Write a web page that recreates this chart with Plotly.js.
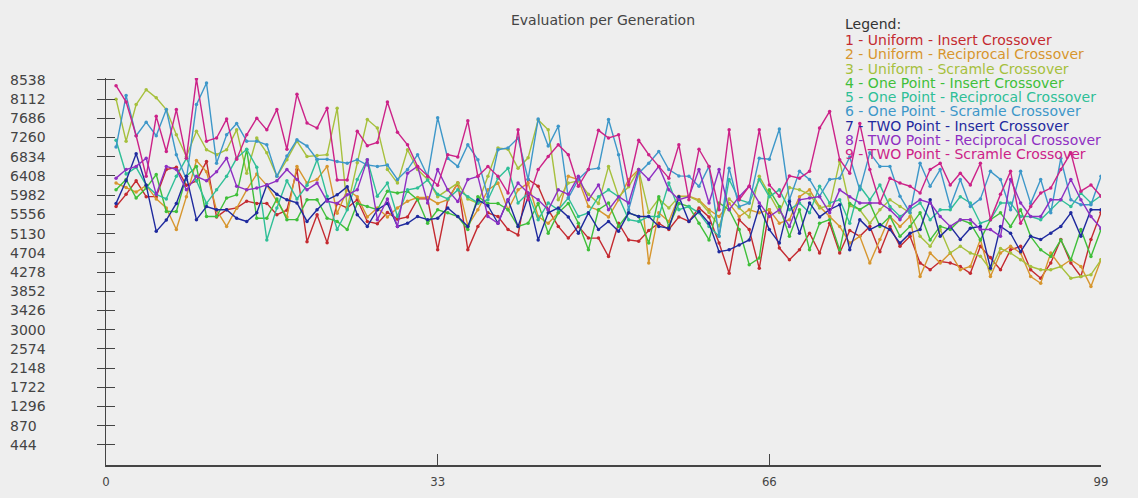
<!DOCTYPE html>
<html><head><meta charset="utf-8">
<script src="https://cdn.plot.ly/plotly-3.0.1.min.js"></script>
<style>html,body{margin:0;padding:0;background:#eeeeee;} #chart{width:1138px;height:498px;}</style>
</head><body><div id="chart"></div>
<script>
const generations = Array.from({length: 99}, (_, i) => i + 1);

const seriesNames = [
  "1 - Uniform - Insert Crossover",
  "2 - Uniform - Reciprocal Crossover",
  "3 - Uniform - Scramle Crossover",
  "4 - One Point - Insert Crossover",
  "5 - One Point - Reciprocal Crossover",
  "6 - One Point - Scramle Crossover",
  "7 - TWO Point - Insert Crossover",
  "8 - TWO Point - Reciprocal Crossover",
  "9 - TWO Point - Scramle Crossover"
];
const seriesColors = ["#c42a30", "#d7962e", "#a6c03c", "#3fbf3a", "#2fbf97", "#3d97c9", "#1f2a9e", "#8e2fc2", "#cc2288"];

const uniformInsert = [5730,6000,6300,5950,5950,6550,6600,6200,6300,6730,5500,5660,5700,5850,5800,5800,
  5550,5650,6550,4950,5550,4930,5800,5700,5880,5400,5350,5600,5450,5500,5900,5900,
  4770,5880,6250,4770,5290,5590,5510,5220,5100,6330,6180,5660,5290,5030,5290,5030,
  5030,4620,5360,4990,4960,5200,5360,5220,5500,5400,5700,5500,4920,4250,5440,5220,
  4360,5660,4810,4550,4770,5140,4700,5360,4700,5200,5070,5290,4730,5290,4850,5070,
  4480,4330,4510,4480,4400,4250,4850,4600,4330,4770,4850,4330,4140,4480,5000,4480,4180,5000,5600];
const uniformReciprocal = [6250,6150,6050,6200,5900,5700,5220,5950,6750,6500,5650,5290,5700,6100,6450,6200,
  5850,5500,6620,6250,6330,6620,5580,6100,5950,5500,5700,5500,5700,5850,5930,5930,
  5800,5880,6250,5300,5660,6100,6250,5660,6100,6250,5510,5360,5590,6400,6330,5730,
  5650,5500,5880,6330,6550,4480,5590,5400,5960,5960,5880,5660,5510,5800,5510,5660,
  5590,5660,5360,5440,5950,6100,5730,5510,5290,4920,5070,4480,5000,5510,5290,5510,
  4180,4700,4480,4700,4330,4400,5000,4180,4700,4850,4700,4180,4030,4700,4400,4550,4400,3960,4550];
const uniformScramle = [8110,7180,7990,8320,8140,7880,7320,6840,7400,6990,6880,6990,7430,6470,7250,6920,
  6400,6770,7180,6840,6860,6880,7910,5700,6700,7660,7470,6550,6250,6990,6550,6330,
  5950,6100,6250,5900,5800,6400,7030,7000,6580,6810,7650,7430,5880,6250,6300,6000,
  5800,6620,5950,6170,6550,5600,5900,5700,5950,5950,5850,5600,5300,5900,5700,5500,
  6400,6000,5600,6150,6100,6000,5700,5750,6730,5750,5660,5360,5660,5880,5730,5590,
  5070,4850,5220,4700,4850,4700,4630,4330,4800,4700,4550,4400,4330,4330,4400,4140,4180,4220,4550];
const onePointInsert = [6100,6330,5920,6140,6440,5620,5620,6400,6620,5510,5510,5920,5990,6990,5470,5470,
  5900,5440,5440,5880,5880,5470,5400,5220,5800,5730,5660,6070,6030,6070,5880,5360,
  5660,5590,5510,5220,5950,5800,5800,5660,5290,5360,5800,5140,5590,5800,5360,4770,
  5660,5810,5290,5590,5510,4920,5950,5290,5800,5730,5360,4990,5810,5660,5220,4440,
  4590,6100,5730,5070,5660,4770,5360,5440,4770,5800,5660,5800,5290,5510,5070,5290,
  5590,4990,5290,5220,5440,5360,4990,5440,5590,5290,5660,5070,4770,4620,4990,4550,5220,4620,5220];
const onePointReciprocal = [7200,6450,6600,6200,6000,5900,6400,6800,6300,5800,6100,6400,6800,7000,6600,4990,
  5700,6300,5900,6200,6770,5960,5220,5660,6330,6770,5960,6250,5510,6100,6140,6320,
  6000,5900,6100,5950,5810,5880,6360,6580,5810,6030,5440,5810,5660,5920,5510,5590,
  5950,6100,5950,5440,5400,5510,5510,6250,5660,5730,5590,5290,5070,6330,5880,5810,
  6330,5950,6100,5660,5810,5590,6180,5810,5880,5360,6180,5880,6210,5730,5510,5660,
  5810,5440,5660,5660,5950,5810,5360,5440,5810,5810,5510,5510,5440,5660,5880,5730,6030,5810,5970];
const onePointScramle = [7050,8190,7300,7600,7300,7880,6880,6330,7990,8470,6690,7320,7570,7180,7180,7100,
  6400,6850,7210,7070,6780,6780,6730,6690,6770,6650,6620,6650,6330,6550,6880,6400,
  7700,6800,6620,7100,6770,5950,6990,7030,7250,6330,7670,7070,7510,5920,6330,6550,
  6580,7660,6880,5660,6470,6690,6950,6550,6410,6400,6180,6620,5070,6580,5730,5810,
  6800,6780,7450,5880,6510,6330,5960,6330,6360,6830,6100,6920,6620,6620,5960,5590,
  6690,6180,6550,5730,6330,5730,5900,6510,6330,5660,6510,5800,6330,5590,6800,5880,5770,5770,6400];
const twoPointInsert = [5800,6300,6900,6200,5180,5430,5800,6400,5440,5730,5660,5660,5470,5400,5590,6210,
  6000,5880,5810,5400,5660,5880,5990,6170,5550,5290,5660,5800,5290,5360,5510,5440,
  5470,5700,5510,5290,5880,5750,5360,5880,5290,5950,4990,5590,5700,5500,5140,5590,
  5220,5400,5180,5590,5510,5510,5290,5250,5950,5400,5620,5360,4730,4770,4880,4990,
  5730,5220,4920,5840,5140,5810,5500,5660,5770,4770,5440,5220,5330,5220,4920,5140,
  5220,5880,5070,5290,5000,5250,5290,4360,5290,5140,4730,5070,5000,5140,5290,5590,5070,5660,5660];
const twoPointReciprocal = [6360,6550,6620,6800,6000,6620,6550,6100,6400,6300,6500,6800,6180,6100,6140,6210,
  6300,6550,6330,6100,6250,5850,5800,5990,6100,6770,5440,5900,5290,6470,6620,5810,
  6550,6100,5840,6330,6400,5510,5360,5880,6250,6030,5880,5660,6100,6000,6400,5880,
  6210,5660,5950,5810,6550,6330,6620,6100,5880,5950,6550,5810,6550,5660,5950,6180,
  5810,5510,5660,5290,5880,5920,5950,5590,6100,5950,5810,5810,5810,5660,5440,5730,
  5880,5810,5510,5290,5440,5440,5220,5220,5070,6330,5810,5510,5510,5880,5880,6330,5880,5510,5250];
const twoPointScramle = [8410,8050,7300,6400,7730,6950,7880,6800,8560,7180,7250,7670,6780,7320,7690,7430,
  7880,7000,8220,7580,7470,7910,6320,6320,7400,7080,7150,8050,7380,7100,6620,6400,
  6200,6880,6830,7630,6400,6620,6400,6030,7430,5880,6550,6840,7100,6880,6180,6550,
  7420,7250,7320,6210,7200,6880,6620,6360,7100,5880,7000,6620,5660,7430,5880,6180,
  7430,6210,5960,6410,6360,6510,7470,7840,6770,6470,7570,6550,5810,6360,6250,6180,
  6030,6550,6690,6210,6470,6210,6690,5440,6000,6510,5360,5730,6030,6140,6550,6920,6070,6210,5960];

const seriesValues = [uniformInsert, uniformReciprocal, uniformScramle, onePointInsert, onePointReciprocal,
  onePointScramle, twoPointInsert, twoPointReciprocal, twoPointScramle];

const xTickValues = [0, 33, 66, 99];
const yTickValues = [444,870,1296,1722,2148,2574,3000,3426,3852,4278,4704,5130,5556,5982,6408,6834,7260,7686,8112,8538];
const yTickLabels = ["444\u2007","870\u2007","1296","1722","2148","2574","3000","3426","3852","4278","4704","5130","5556","5982","6408","6834","7260","7686","8112","8538"];

// last series drawn on the overlaid twin axis (same range) so the inner half of the cross ticks is drawn
const traces = seriesValues.map((vals, i) => ({
  type: 'scatter', mode: 'lines+markers', name: seriesNames[i],
  x: generations, y: vals, xaxis: 'x', yaxis: i === seriesValues.length - 1 ? 'y2' : 'y',
  line: {color: seriesColors[i], width: 1.4},
  marker: {color: seriesColors[i], size: 3.5},
  showlegend: false, hoverinfo: 'skip'
}));

const annotations = [{
  xref: 'paper', yref: 'paper', x: (843 - 106) / 995, y: (465 - 24) / 387,
  xanchor: 'left', yanchor: 'middle', showarrow: false, text: 'Legend:',
  font: {family: 'DejaVu Sans', size: 14, color: '#333333'}
}];
seriesNames.forEach((n, i) => {
  annotations.push({
    xref: 'paper', yref: 'paper', x: (843 - 106) / 995, y: (465 - (40 + 14.3 * i)) / 387,
    xanchor: 'left', yanchor: 'middle', showarrow: false, text: n,
    font: {family: 'DejaVu Sans', size: 14, color: seriesColors[i]}
  });
});

const layout = {
  width: 1138, height: 498,
  paper_bgcolor: '#eeeeee', plot_bgcolor: '#eeeeee',
  margin: {l: 106, r: 37, t: 78, b: 33},
  title: {text: 'Evaluation per Generation', xref: 'container', yref: 'container',
    x: 603 / 1138, xanchor: 'center', y: 1 - 20 / 498, yanchor: 'middle',
    font: {family: 'DejaVu Sans', size: 14, color: '#444444'}},
  xaxis: {range: [0, 99], tickvals: xTickValues, ticks: 'inside', ticklen: 11, tickcolor: '#444',
    showline: true, linecolor: '#444', linewidth: 1.5, showgrid: false, zeroline: false,
    tickfont: {family: 'DejaVu Sans Condensed', size: 13, color: '#444'},
    ticklabelstandoff: 4, fixedrange: true},
  yaxis: {range: [0, 8580], tickvals: yTickValues, ticktext: yTickLabels, ticks: 'outside', ticklen: 8,
    tickcolor: '#444', showline: true, linecolor: '#444', linewidth: 1.5, showgrid: false, zeroline: false,
    tickfont: {family: 'DejaVu Sans', size: 14, color: '#444'}, ticklabelstandoff: 48, fixedrange: true},
  yaxis2: {overlaying: 'y', side: 'left', anchor: 'x', range: [0, 8580], tickvals: yTickValues, ticks: 'inside', ticklen: 9,
    tickcolor: '#444', showticklabels: false, showline: false, showgrid: false, zeroline: false, fixedrange: true},
  annotations: annotations
};

Plotly.newPlot('chart', traces, layout, {displayModeBar: false, staticPlot: true});
</script>
</body></html>
